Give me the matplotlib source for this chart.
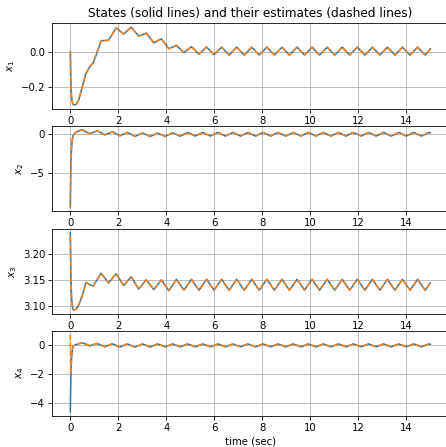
import matplotlib
matplotlib.use("Agg")
import matplotlib.pyplot as plt
import numpy as np

# sample times: start-up transient, then the peaks / troughs of the ~10 rad/s oscillation
t_start_13 = [0.0, 0.02, 0.05, 0.1, 0.15, 0.25, 0.35, 0.5, 0.65, 0.8, 0.95, 1.1]
t_start_24 = [0.0, 0.015, 0.03, 0.05, 0.08, 0.12, 0.2, 0.3]
t_13 = np.concatenate([t_start_13, 1.28 + 0.314 * np.arange(44), [15.0]])
t_24 = np.concatenate([t_start_24, 0.495 + 0.314 * np.arange(47), [15.0]])

# x1 (cart position)
x1 = [0.0, -0.16, -0.26, -0.298, -0.305, -0.300, -0.275, -0.200, -0.125, -0.088, -0.065, -0.010,
      0.062, 0.064, 0.135, 0.100, 0.139, 0.088, 0.105, 0.050, 0.073, 0.016,
      0.035, -0.006, 0.028, -0.015, 0.026, -0.018,
      0.025, -0.020, 0.025, -0.020, 0.025, -0.020, 0.025, -0.020, 0.025, -0.020,
      0.025, -0.020, 0.025, -0.020, 0.025, -0.020, 0.025, -0.020, 0.025, -0.020,
      0.025, -0.020, 0.025, -0.020, 0.025, -0.020, 0.025, -0.020,
      0.015]

# x2 (cart velocity)
x2 = [-9.4, -5.5, -3.4, -1.8, -0.7, -0.15, 0.15, 0.35,
      0.55, 0.05, 0.42, -0.10, 0.30, -0.22, 0.22, -0.30, 0.15, -0.32, 0.13, -0.30, 0.17, -0.27,
      0.21, -0.25, 0.21, -0.25, 0.21, -0.25, 0.21, -0.25, 0.21, -0.25, 0.21, -0.25,
      0.21, -0.25, 0.21, -0.25, 0.21, -0.25, 0.21, -0.25, 0.21, -0.25, 0.21, -0.25,
      0.21, -0.25, 0.21, -0.25, 0.21, -0.25, 0.21, -0.25, 0.21,
      0.17]

# x3 (pendulum angle)
x3 = [3.2416, 3.17, 3.115, 3.093, 3.091, 3.093, 3.101, 3.120, 3.145, 3.141, 3.138, 3.149,
      3.163, 3.144, 3.162, 3.139, 3.156, 3.132, 3.150, 3.131, 3.150, 3.129,
      3.151, 3.130, 3.151, 3.130, 3.151, 3.130, 3.151, 3.130, 3.151, 3.130,
      3.151, 3.130, 3.151, 3.130, 3.151, 3.130, 3.151, 3.130, 3.151, 3.130,
      3.151, 3.130, 3.151, 3.130, 3.151, 3.130, 3.151, 3.130, 3.151, 3.130,
      3.151, 3.130, 3.151, 3.130,
      3.144]

# x4 (angular velocity)
x4 = [-4.6, -2.9, -1.8, -0.9, -0.3, -0.05, 0.03, 0.09,
      0.18, -0.02, 0.13, -0.09, 0.11, -0.11, 0.10, -0.12, 0.10, -0.11, 0.10, -0.10, 0.10, -0.10,
      0.10, -0.10, 0.10, -0.10, 0.10, -0.10, 0.10, -0.10, 0.10, -0.10, 0.10, -0.10,
      0.10, -0.10, 0.10, -0.10, 0.10, -0.10, 0.10, -0.10, 0.10, -0.10, 0.10, -0.10,
      0.10, -0.10, 0.10, -0.10, 0.10, -0.10, 0.10, -0.10, 0.10,
      0.08]

# observer estimates: same as the states except the first samples
x1_hat = list(x1)
x2_hat = list(x2)
x3_hat = [3.235] + x3[1:]
x4_hat = [0.75, -2.0] + x4[2:]

states = [x1, x2, x3, x4]
estimates = [x1_hat, x2_hat, x3_hat, x4_hat]
times = [t_13, t_24, t_13, t_24]
labels = ["$x_1$", "$x_2$", "$x_3$", "$x_4$"]

fig, axes = plt.subplots(4, 1, figsize=(446 / 73, 447 / 73), dpi=73)

# axes boxes (left, bottom, width, height) in figure fractions
boxes = [(0.1173, 0.7562, 0.888, 0.1917),
         (0.1173, 0.5280, 0.888, 0.1902),
         (0.1173, 0.2975, 0.888, 0.1902),
         (0.1173, 0.0700, 0.888, 0.1902)]

for ax, box, t, x, xh, lab in zip(axes, boxes, times, states, estimates, labels):
    ax.set_position(box)
    ax.plot(t, x, color="C0")
    ax.plot(t, xh, color="C1", linestyle="--")
    ax.set_ylabel(lab)
    ax.grid(True)

axes[0].set_title("States (solid lines) and their estimates (dashed lines)")
axes[3].set_xlabel("time (sec)")

fig.savefig("out.png", dpi=73)
